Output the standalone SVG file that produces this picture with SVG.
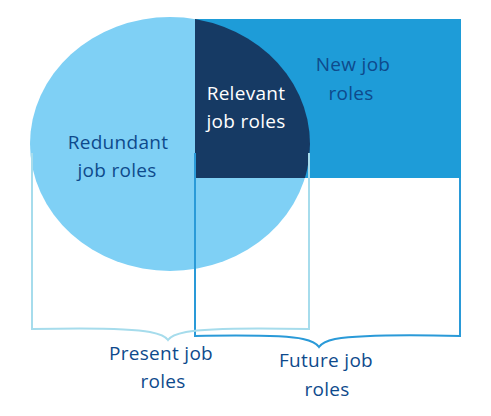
<svg xmlns="http://www.w3.org/2000/svg" width="491" height="416" viewBox="0 0 491 416">
  <style>
    .t { font-family: "Open Sans", "Noto Sans", sans-serif; font-size: 19px; letter-spacing: 0.3px; text-anchor: middle; fill: #0e4a8c; }
    .w { fill: #ffffff; }
    .br { fill: none; stroke-width: 2; }
  </style>
  <defs>
    <clipPath id="rc"><rect x="195" y="19" width="266" height="159"/></clipPath>
  </defs>
  <g id="present-circle">
    <ellipse cx="170" cy="144" rx="140" ry="127" fill="#7fd0f5"/>
  </g>
  <g id="future-rect">
    <rect x="195" y="19" width="266" height="159" fill="#1e9cd8"/>
  </g>
  <g id="relevant">
    <ellipse cx="170" cy="144" rx="140" ry="127" fill="#163a64" clip-path="url(#rc)"/>
  </g>
  <g id="connectors">
    <path class="br" stroke="#2a9ad8" d="M195,153 V336 C250,335 290,336 303,339 C312,341 317,344 319,347 C321,344 326,341 335,339 C360,335 420,335 460,336 V178"/>
    <path class="br" stroke="#a6dcec" d="M32,153 V329 C80,328 130,328 150,332 C160,334 166,337 168,340 C170,337 176,334 186,332 C206,328 260,328 309,329 V153"/>
  </g>
  <g id="label-redundant">
    <text class="t" x="118" y="149">Redundant</text>
    <text class="t" x="117" y="177">job roles</text>
  </g>
  <g id="label-relevant">
    <text class="t w" x="246" y="100">Relevant</text>
    <text class="t w" x="246" y="128">job roles</text>
  </g>
  <g id="label-new">
    <text class="t" x="353" y="71">New job</text>
    <text class="t" x="351" y="100">roles</text>
  </g>
  <g id="label-present">
    <text class="t" x="161" y="360">Present job</text>
    <text class="t" x="163" y="388">roles</text>
  </g>
  <g id="label-future">
    <text class="t" x="326" y="367">Future job</text>
    <text class="t" x="327" y="396">roles</text>
  </g>
</svg>
